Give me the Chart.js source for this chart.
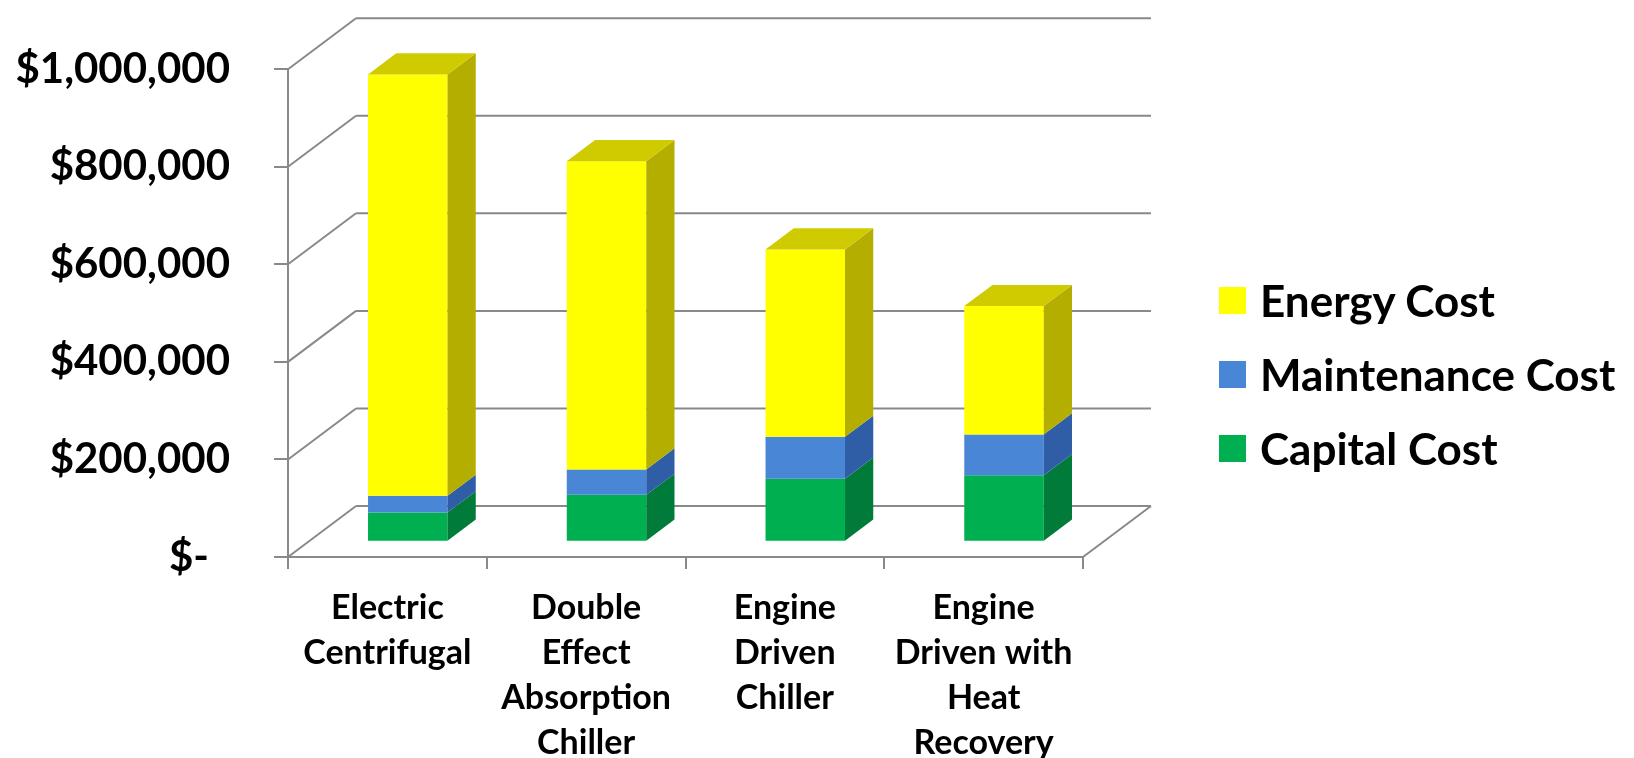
<!DOCTYPE html>
<html>
<head>
<meta charset="utf-8">
<title>Chiller Life-Cycle Cost Comparison</title>
<script src="https://cdn.jsdelivr.net/npm/chart.js@4.4.1/dist/chart.umd.min.js"></script>
<style>
  html, body { margin: 0; padding: 0; background: #ffffff; }
  #wrap { position: relative; width: 1634px; height: 758px; overflow: hidden; }
  #chart { position: absolute; left: 0; top: 0; }
  #legend {
    position: absolute; left: 1219px; top: 263px;
    font-family: Lato, "Open Sans", sans-serif; font-weight: 700; font-size: 44px; color: #000;
  }
  #legend .item { display: flex; align-items: center; height: 74px; white-space: nowrap; }
  #legend .swatch { width: 27px; height: 27px; margin-right: 14px; flex: none; }
</style>
</head>
<body>
<div id="wrap">
  <canvas id="chart" width="1634" height="758"></canvas>
  <div id="legend"></div>
</div>
<script>
// Chiller options (multi-line category labels)
const categories = [
  ['Electric', 'Centrifugal'],
  ['Double', 'Effect', 'Absorption', 'Chiller'],
  ['Engine', 'Driven', 'Chiller'],
  ['Engine', 'Driven with', 'Heat', 'Recovery']
];

// Cost components in dollars, stacked bottom to top
const capitalCost     = [60000, 96000, 129000, 136000];
const maintenanceCost = [34000, 52000, 86000, 84000];
const energyCost      = [864000, 632000, 384000, 263000];

// Value axis
const axisMin = 0;
const axisMax = 1000000;
const axisStep = 200000;

const LINE = '#898989';
const FONT = 'Lato, "Open Sans", sans-serif';

// Accounting-style dollar labels; zero shows as a dash
function money(v) {
  return v === 0 ? '$-\u2002' : '$' + v.toLocaleString('en-US');
}

// Draws the receding walls, floor and the bars as solid prisms
const box3d = {
  id: 'box3d',
  beforeDatasetsDraw(chart, args, opts) {
    const { ctx, chartArea: a, scales: { x, y } } = chart;
    const dx = opts.depthX, dy = opts.depthY;

    ctx.save();
    ctx.strokeStyle = opts.lineColor;
    ctx.lineWidth = 2;
    ctx.beginPath();
    y.ticks.forEach(t => {
      const py = y.getPixelForValue(t.value);
      ctx.moveTo(a.left + dx, py + dy);
      ctx.lineTo(a.right + dx, py + dy);
      ctx.moveTo(a.left, py);
      ctx.lineTo(a.left + dx, py + dy);
    });
    ctx.moveTo(a.right, a.bottom);
    ctx.lineTo(a.right + dx, a.bottom + dy);
    ctx.stroke();

    const ox = dx * opts.barFront, oy = dy * opts.barFront;
    const bx = dx * (opts.barBack - opts.barFront), by = dy * (opts.barBack - opts.barFront);
    const metas = chart.getSortedVisibleDatasetMetas();

    const poly = (pts, fill) => {
      ctx.beginPath();
      ctx.moveTo(pts[0][0], pts[0][1]);
      for (let i = 1; i < pts.length; i++) ctx.lineTo(pts[i][0], pts[i][1]);
      ctx.closePath();
      ctx.fillStyle = fill;
      ctx.fill();
    };

    for (let i = 0; i < chart.data.labels.length; i++) {
      metas.forEach((meta, k) => {
        const ds = chart.data.datasets[meta.index];
        const el = meta.data[i];
        if (!el) return;
        const p = el.getProps(['x', 'y', 'base', 'width'], true);
        const l = p.x - p.width / 2 + ox, r = p.x + p.width / 2 + ox;
        const t = Math.min(p.y, p.base) + oy, b = Math.max(p.y, p.base) + oy;
        poly([[l, t], [r, t], [r, b], [l, b]], ds.backgroundColor);
        poly([[r, t], [r + bx, t + by], [r + bx, b + by], [r, b]], ds.sideColor);
        if (k === metas.length - 1) {
          poly([[l, t], [r, t], [r + bx, t + by], [l + bx, t + by]], ds.topColor);
        }
      });
    }
    ctx.restore();
    return false;
  }
};

const chart = new Chart(document.getElementById('chart'), {
  type: 'bar',
  data: {
    labels: categories,
    datasets: [
      { label: 'Capital Cost', data: capitalCost, backgroundColor: '#00B050', sideColor: '#007B3A', topColor: '#00A048' },
      { label: 'Maintenance Cost', data: maintenanceCost, backgroundColor: '#4A86D6', sideColor: '#2F5DA6', topColor: '#3C72C0' },
      { label: 'Energy Cost', data: energyCost, backgroundColor: '#FFFF00', sideColor: '#B3AE00', topColor: '#CFCB00' }
    ]
  },
  options: {
    responsive: false,
    animation: false,
    events: [],
    layout: { padding: { top: 63, right: 551, left: 0, bottom: 0 } },
    datasets: { bar: { categoryPercentage: 0.4, barPercentage: 1.0 } },
    plugins: {
      legend: { display: false },
      tooltip: { enabled: false },
      box3d: { depthX: 68, depthY: -51, barFront: 0.3, barBack: 0.715, lineColor: LINE }
    },
    scales: {
      x: {
        stacked: true,
        offset: true,
        grid: { display: true, offset: true, drawOnChartArea: false, drawTicks: true, tickLength: 12, color: LINE, lineWidth: 2 },
        border: { display: true, color: LINE, width: 2 },
        ticks: {
          color: '#000', padding: 17, maxRotation: 0, minRotation: 0, autoSkip: false,
          font: { family: FONT, weight: 'bold', size: 34, lineHeight: '45px' }
        },
        afterFit(s) { s.height = 201; }
      },
      y: {
        stacked: true,
        min: axisMin, max: axisMax,
        grid: { display: true, drawOnChartArea: false, drawTicks: true, tickLength: 14, color: LINE, lineWidth: 2 },
        border: { display: true, color: LINE, width: 2 },
        ticks: {
          stepSize: axisStep, color: '#000', padding: 44,
          font: { family: FONT, weight: 'bold', size: 42 },
          callback: v => money(v)
        },
        afterFit(s) { s.width = 288; }
      }
    }
  },
  plugins: [box3d]
});

// Legend, top series first
const legend = document.getElementById('legend');
chart.data.datasets.slice().reverse().forEach(ds => {
  const row = document.createElement('div');
  row.className = 'item';
  const sw = document.createElement('span');
  sw.className = 'swatch';
  sw.style.background = ds.backgroundColor;
  const txt = document.createElement('span');
  txt.textContent = ds.label;
  row.appendChild(sw);
  row.appendChild(txt);
  legend.appendChild(row);
});
</script>
</body>
</html>
